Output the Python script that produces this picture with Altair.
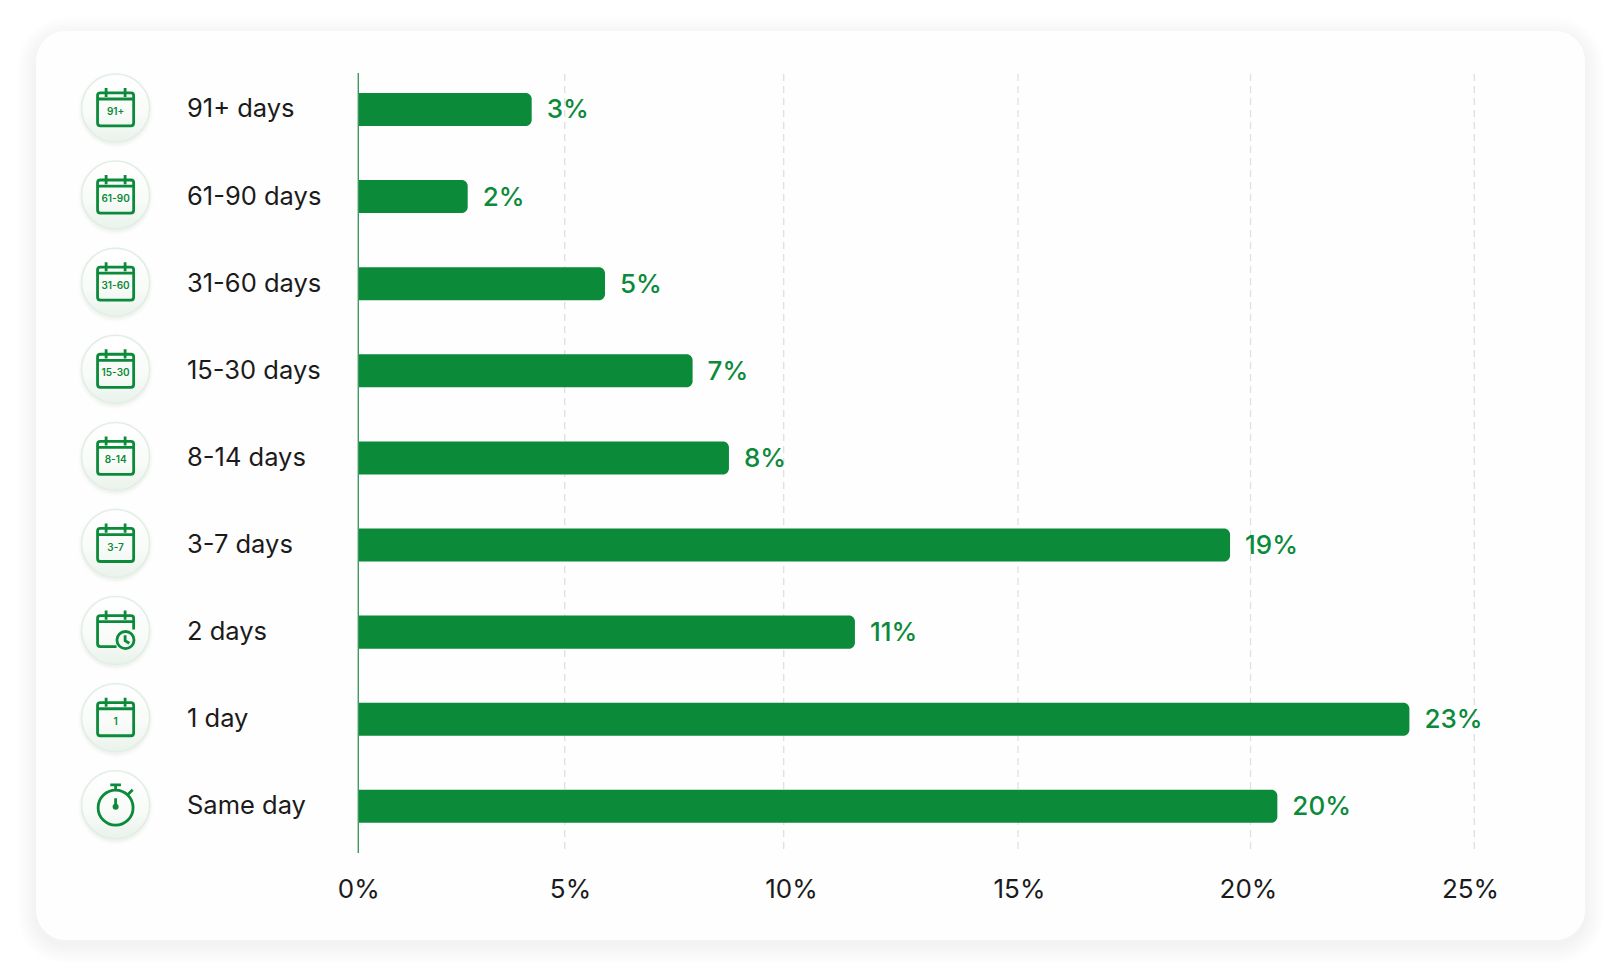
import altair as alt
import pandas as pd

categories = ["91+ days", "61-90 days", "31-60 days", "15-30 days", "8-14 days",
              "3-7 days", "2 days", "1 day", "Same day"]
bar_values = [4.2, 2.65, 5.92, 7.92, 8.75, 19.56, 11.52, 23.55, 20.6]
value_labels = ["3%", "2%", "5%", "7%", "8%", "19%", "11%", "23%", "20%"]
icon_text = ["91+", "61-90", "31-60", "15-30", "8-14", "3-7", "", "1", ""]
icon_kind = ["cal", "cal", "cal", "cal", "cal", "cal", "clock", "cal", "watch"]
ticks = [0, 5, 10, 15, 20, 25]

GREEN = "#0b8a3a"
INK = "#1b1b1b"
FONT = "Inter"
W, H = 1603, 955

grid_range = [350.3, 556.7, 775.7, 1010, 1242.5, 1466.3]
label_range = [350.3, 562, 783, 1011, 1240, 1462]
row_range = [57.9, 841.9]

df = pd.DataFrame({"cat": categories, "val": bar_values, "lab": value_labels,
                   "txt": icon_text, "kind": icon_kind})
tk = pd.DataFrame({"t": ticks})

xgrid = lambda: alt.Scale(domain=ticks, range=grid_range)
yscale = lambda: alt.Scale(domain=categories, range=row_range, paddingInner=0.621, paddingOuter=0.3105)
yenc = alt.Y("cat:N", sort=categories, axis=None, scale=yscale())

layers = []

# card shadow and card
CL, CR, CT, CB = 28, 1577, 23, 932
for i in range(12, 0, -1):
    s = i * 1.6
    layers.append(alt.Chart(tk.head(1)).mark_rect(
        color="#5a5a5a", opacity=0.005, cornerRadius=30 + s).encode(
        x=alt.value(CL - s), x2=alt.value(CR + s),
        y=alt.value(CT - s + 5), y2=alt.value(CB + s + 5)))
layers.append(alt.Chart(tk.head(1)).mark_rect(color="#fefefe", cornerRadius=30).encode(
    x=alt.value(CL), x2=alt.value(CR), y=alt.value(CT), y2=alt.value(CB)))

# dashed grid
layers.append(alt.Chart(tk[tk.t > 0]).mark_rule(color="#e0e0e0", strokeWidth=1.3, strokeDash=[7, 5]).encode(
    x=alt.X("t:Q", scale=xgrid(), axis=None), y=alt.value(66), y2=alt.value(846)))

# tick labels (their centres do not sit on the grid lines in the reference)
layers.append(alt.Chart(tk).mark_point(opacity=0).encode(
    x=alt.X("t:Q", scale=alt.Scale(domain=ticks, range=label_range),
            axis=alt.Axis(orient="bottom", values=ticks, labelExpr="datum.value + '%'", title=None,
                          grid=False, domain=False, ticks=False, offset=-74, labelPadding=0,
                          labelBaseline="middle", labelFont=FONT, labelFontSize=26,
                          labelColor=INK, labelOverlap=False, labelFlush=False, zindex=2)),
    y=alt.value(880)))

# bars
layers.append(alt.Chart(df).mark_bar(color=GREEN, cornerRadiusTopRight=6, cornerRadiusBottomRight=6).encode(
    x=alt.X("val:Q", scale=xgrid(), axis=None, stack=None), y=yenc))

# baseline
layers.append(alt.Chart(tk.head(1)).mark_rule(color="#3f9a5e", strokeWidth=1.4).encode(
    x=alt.X("t:Q", scale=xgrid(), axis=None), y=alt.value(65), y2=alt.value(845)))

# category labels
layers.append(alt.Chart(df).mark_text(align="left", baseline="middle", fontSize=25.5, font=FONT, color=INK).encode(
    x=alt.value(179), y=yenc, text="cat:N"))

# value labels
layers.append(alt.Chart(df).mark_text(align="left", baseline="middle", dx=15, dy=1, fontSize=26, fontWeight=500,
                                      font=FONT, color=GREEN).encode(
    x=alt.X("val:Q", scale=xgrid(), axis=None), y=yenc, text="lab:N"))

# icon discs
IX = 107.6
for k, op in [(76, 0.015), (73, 0.025), (70, 0.04)]:
    layers.append(alt.Chart(df).mark_circle(size=k * k, color="#4f6f58", opacity=op, yOffset=0.5).encode(
        x=alt.value(IX), y=yenc))
disc = alt.LinearGradient(gradient="linear", x1=0, y1=0, x2=0, y2=1,
                          stops=[alt.GradientStop(color="#ffffff", offset=0),
                                 alt.GradientStop(color="#f8fbf8", offset=0.6),
                                 alt.GradientStop(color="#e9f2eb", offset=1)])
layers.append(alt.Chart(df).mark_circle(size=68 * 68, fill=disc, stroke="#e2eee4", strokeWidth=1.5, opacity=1, yOffset=-1.5).encode(
    x=alt.value(IX), y=yenc))

# icon glyphs (unit-square paths, scaled by the symbol size)
CAL = ("M-0.8 -0.74 H0.8 Q0.95 -0.74 0.95 -0.6 V0.85 Q0.95 1 0.8 1 H-0.8 Q-0.95 1 -0.95 0.85 V-0.6 Q-0.95 -0.74 -0.8 -0.74 Z "
       "M-0.95 -0.42 H0.95 M-0.5 -1 V-0.52 M0.5 -1 V-0.52")
CLOCK = ("M0.95 0 V-0.6 Q0.95 -0.74 0.8 -0.74 H-0.8 Q-0.95 -0.74 -0.95 -0.6 V0.75 Q-0.95 0.9 -0.8 0.9 H0.05 "
         "M-0.95 -0.42 H0.95 M-0.5 -1 V-0.52 M0.5 -1 V-0.52 "
         "M0.97 0.55 A0.45 0.45 0 1 1 0.07 0.55 A0.45 0.45 0 1 1 0.97 0.55 Z "
         "M0.5 0.3 V0.58 L0.72 0.72")
WATCH = ("M0.92 0.2 A0.92 0.92 0 1 1 -0.92 0.2 A0.92 0.92 0 1 1 0.92 0.2 Z "
         "M-0.28 -1 H0.28 M0 -1 V-0.72 M0.66 -0.5 L0.9 -0.74 M0 -0.3 V0.2")
for kind, path in [("cal", CAL), ("clock", CLOCK), ("watch", WATCH)]:
    layers.append(alt.Chart(df[df.kind == kind]).mark_point(
        shape=path, size=38 * 38, filled=False, stroke=GREEN, strokeWidth=2.8, opacity=1, yOffset=-2.5).encode(
        x=alt.value(IX), y=yenc))
layers.append(alt.Chart(df[df.kind == "watch"]).mark_circle(size=36, color=GREEN, opacity=1, yOffset=0.5).encode(
    x=alt.value(IX), y=yenc))
layers.append(alt.Chart(df[df.txt != ""]).mark_text(
    baseline="middle", align="center", font=FONT, fontSize=10, fontWeight=600, color=GREEN, dy=2.5).encode(
    x=alt.value(IX), y=yenc, text="txt:N"))

chart = (alt.layer(*layers)
         .resolve_scale(x="independent")
         .properties(width=W, height=H, padding=0, autosize=alt.AutoSizeParams(type="none"), background="#ffffff")
         .configure_view(stroke=None))

chart.save("out.html", embed_options={"renderer": "svg", "actions": False})
